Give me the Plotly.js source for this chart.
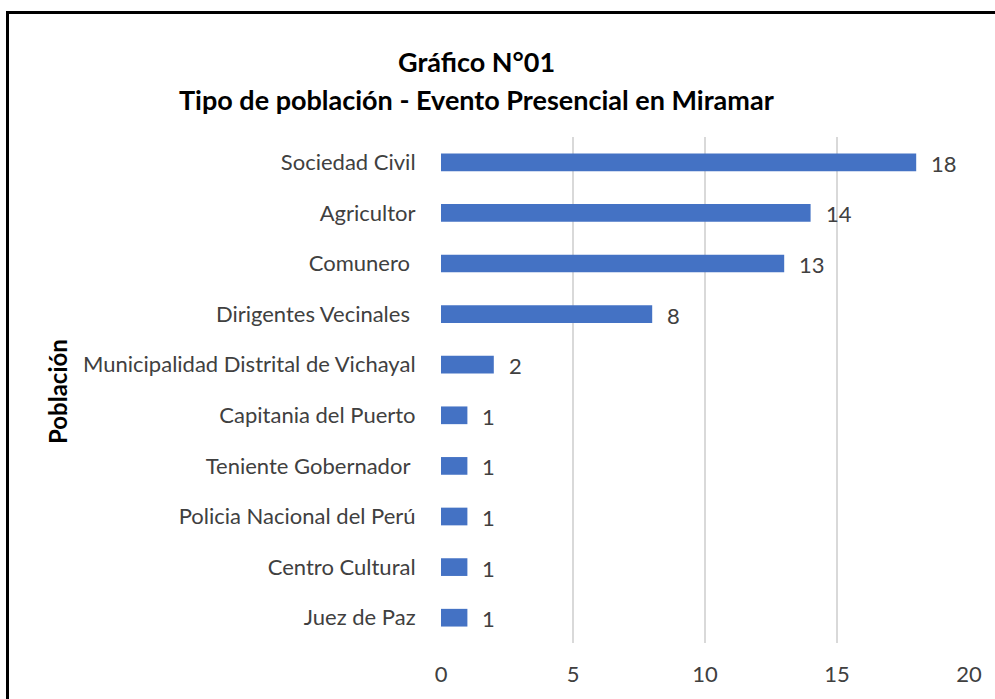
<!DOCTYPE html>
<html>
<head>
<meta charset="utf-8">
<script src="https://cdn.plot.ly/plotly-3.0.1.min.js"></script>
<style>
  html, body { margin: 0; padding: 0; background: #fff; }
  #wrap { position: relative; width: 995px; height: 699px; overflow: hidden; }
  #chart { width: 995px; height: 699px; }
  #frame { position: absolute; left: 6px; top: 11px; width: 1000px; height: 700px;
           border-left: 3px solid #000; border-top: 3px solid #000; pointer-events: none; }
</style>
</head>
<body>
<div id="wrap">
  <div id="chart"></div>
  <div id="frame"></div>
</div>
<script>
const categories = [
  "Sociedad Civil",
  "Agricultor",
  "Comunero ",
  "Dirigentes Vecinales ",
  "Municipalidad Distrital de Vichayal",
  "Capitania del Puerto",
  "Teniente Gobernador ",
  "Policia Nacional del Perú",
  "Centro Cultural",
  "Juez de Paz"
];
const values = [18, 14, 13, 8, 2, 1, 1, 1, 1, 1];
const xTicks = [0, 5, 10, 15, 20];
const titleLine1 = "Gráfico N°01";
const titleLine2 = "Tipo de población - Evento Presencial en Miramar";
const yTitle = "Población";

const FONT = "Lato, 'Open Sans', sans-serif";
const LBL = 22;

const trace = {
  type: "bar",
  orientation: "h",
  x: values,
  y: categories,
  marker: { color: "#4472C4" },
  width: 0.35,
  cliponaxis: false,
  hoverinfo: "none"
};

const valueLabels = values.map((v, i) => ({
  text: String(v), x: v, y: categories[i], xref: "x", yref: "y",
  xanchor: "left", yanchor: "middle", xshift: 13, yshift: -1,
  showarrow: false, font: { family: FONT, size: LBL, color: "#404040" }
}));

const layout = {
  width: 995,
  height: 699,
  margin: { l: 441, r: 26, t: 137, b: 56 },
  paper_bgcolor: "#fff",
  plot_bgcolor: "#fff",
  showlegend: false,
  font: { family: FONT, size: LBL, color: "#404040" },
  xaxis: {
    range: [0, 20],
    tickvals: xTicks,
    ticktext: xTicks.map(String),
    showgrid: true,
    gridcolor: "#d9d9d9",
    gridwidth: 1.5,
    zeroline: false,
    showline: false,
    ticks: "outside",
    ticklen: 12,
    tickcolor: "rgba(0,0,0,0)",
    tickfont: { family: FONT, size: LBL, color: "#404040" },
    fixedrange: true
  },
  yaxis: {
    type: "category",
    categoryorder: "array",
    categoryarray: categories,
    autorange: "reversed",
    showgrid: false,
    zeroline: false,
    showline: false,
    ticks: "outside",
    ticklen: 20,
    tickcolor: "rgba(0,0,0,0)",
    tickfont: { family: FONT, size: LBL, color: "#404040" },
    fixedrange: true
  },
  annotations: [
    { text: "<b>" + titleLine1 + "</b>", xref: "paper", yref: "paper",
      x: (476 - 441) / 528, y: (643 - 62) / 506, xanchor: "center", yanchor: "middle",
      showarrow: false, font: { family: FONT, size: 27, color: "#000" } },
    { text: "<b>" + titleLine2 + "</b>", xref: "paper", yref: "paper",
      x: (476 - 441) / 528, y: (643 - 100) / 506, xanchor: "center", yanchor: "middle",
      showarrow: false, font: { family: FONT, size: 27, color: "#000" } },
    { text: "<b>" + yTitle + "</b>", xref: "paper", yref: "paper",
      x: (57 - 441) / 528, y: (643 - 392) / 506, xanchor: "center", yanchor: "middle", textangle: -90,
      showarrow: false, font: { family: FONT, size: 24, color: "#000" } }
  ].concat(valueLabels)
};

Plotly.newPlot("chart", [trace], layout, { displayModeBar: false, staticPlot: true });
</script>
</body>
</html>
